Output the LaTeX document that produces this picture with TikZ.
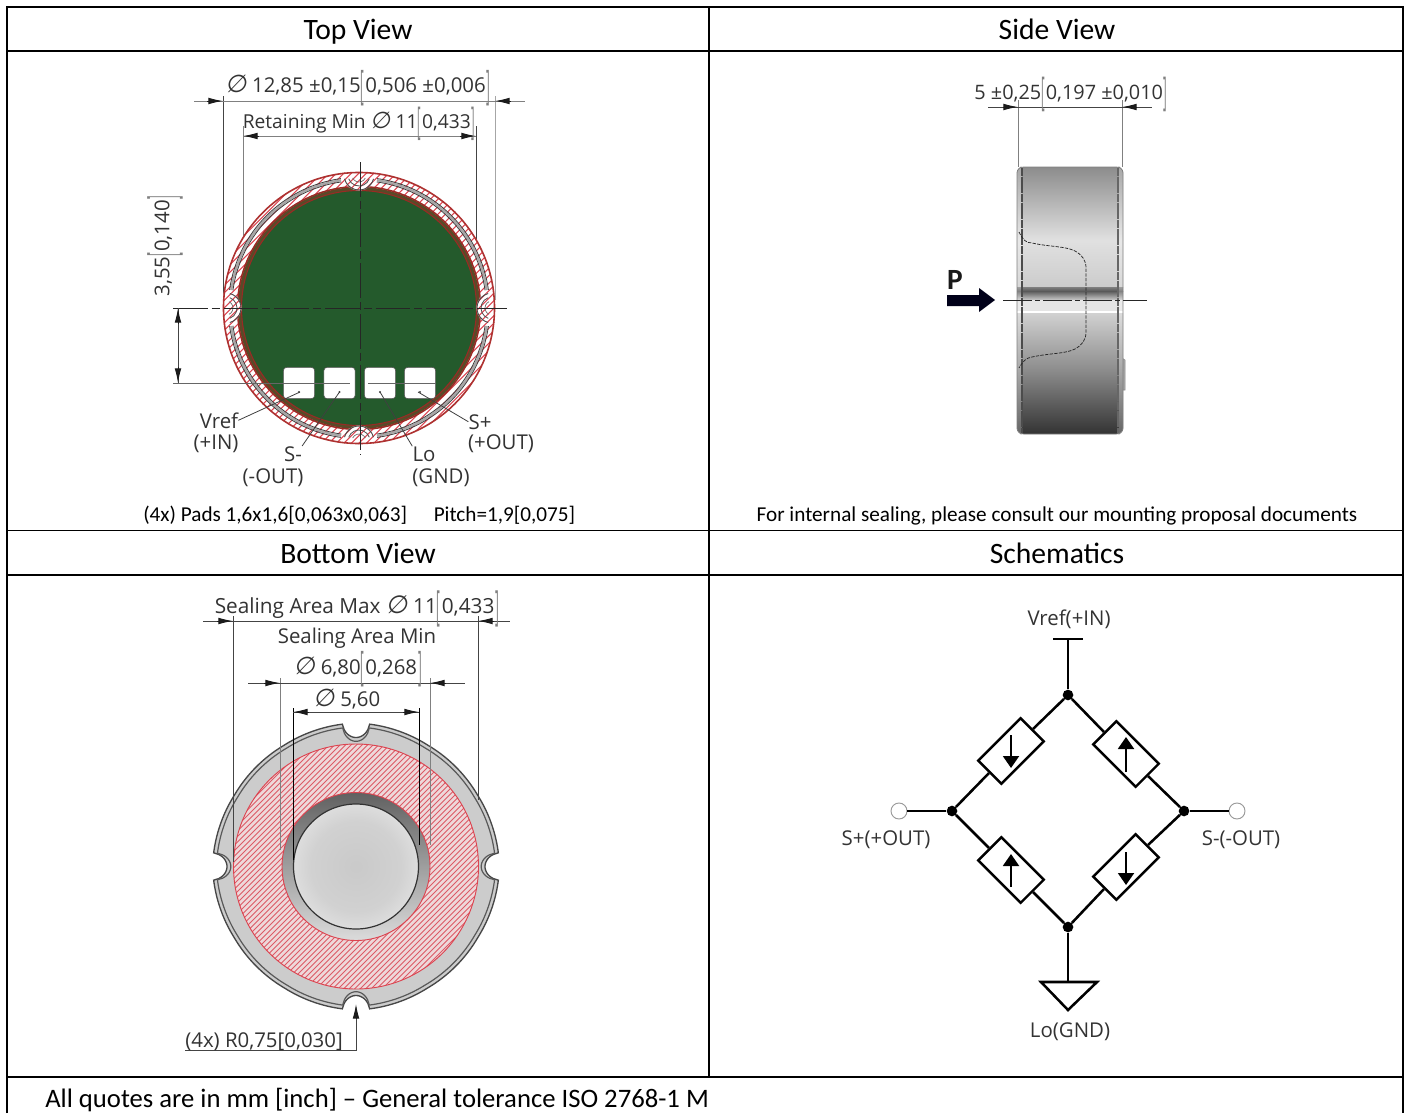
\documentclass[tikz,border=0pt]{standalone}
\usepackage{fontspec}
\usepackage{graphicx}
\setmainfont{Carlito}
\newfontfamily\dimf{Open Sans}
\newfontfamily\djf[FakeSlant=0.15]{DejaVu Sans}
\usetikzlibrary{arrows.meta,calc,shapes.geometric}
\definecolor{txt}{HTML}{333333}
\definecolor{dimc}{HTML}{444444}
\definecolor{pcb}{HTML}{245A2C}
\definecolor{pcbr}{HTML}{9A2A24}
\definecolor{pcbo}{HTML}{5A4A28}
\definecolor{hatchr}{HTML}{DC4450}
\definecolor{hatchb}{HTML}{DC5A66}
\definecolor{body}{HTML}{CCCCCC}
\definecolor{pinkbg}{HTML}{EED8DA}
\newcommand\lbk{\raisebox{-0.34em}{\scalebox{0.55}[2.0]{\textcolor{gray}{[}}}\hspace{0.05em}}
\newcommand\rbk{\hspace{0.05em}\raisebox{-0.34em}{\scalebox{0.55}[2.0]{\textcolor{gray}{]}}}}
\newcommand\dia{\scalebox{1.2}{\djf\char"2205}}
\newcommand\tophatch{\foreach \k in {-32,...,32} \draw[hatchr,line width=0.8pt] ({\k*7.5-160},160) -- ({\k*7.5+160},-160);}
\pgfmathdeclarefunction{bR}{1}{\begingroup\pgfmathparse{abs(mod(#1+45,90)-45)}\let\dd\pgfmathresult\pgfmathparse{(\dd<5.4)?(143-14*sqrt(abs(1-(\dd/5.4)^2))):(141+2*max(0,1-(\dd-5.4)/25))}\pgfmathsmuggle\pgfmathresult\endgroup}
\pgfdeclareradialshading{bowl}{\pgfpoint{0bp}{0bp}}{rgb(0bp)=(0.79,0.79,0.79);rgb(18bp)=(0.82,0.82,0.82);rgb(30bp)=(0.90,0.90,0.90);rgb(38bp)=(0.84,0.84,0.84);rgb(50bp)=(0.50,0.50,0.50)}
\tikzset{
  gridline/.style={black,line width=1.1pt},
  title/.style={font=\fontsize{22.2}{24}\selectfont,text=black,inner sep=0pt,anchor=base},
  caption/.style={font=\fontsize{15.9}{18}\selectfont,text=black,inner sep=0pt,anchor=base},
  dimtext/.style={font=\dimf\fontsize{15.3}{17}\selectfont,text=txt,inner sep=0pt,anchor=base},
  dimline/.style={dimc,line width=0.7pt},
  extline/.style={dimc,line width=0.55pt},
  dimtip/.style={-{Latex[length=11pt,width=5pt]},dimc!40!black,line width=0.7pt},
  centerline/.style={black!85,line width=0.6pt,dash pattern=on 26pt off 3pt on 6pt off 3pt},
  wire/.style={black,line width=1.9pt},
  resistor/.style={draw=black,fill=white,line width=1.8pt,rectangle,minimum width=45pt,minimum height=24.5pt,rotate=#1,inner sep=0pt},
  junction/.style={circle,fill=black,inner sep=0pt,minimum size=8pt},
  terminal/.style={circle,draw=gray!80,fill=white,line width=0.7pt,inner sep=0pt,minimum size=12pt},
  gauge/.style={-{Triangle[length=9pt,width=12pt]},black,line width=1.5pt},
  pad/.style={rectangle,rounded corners=2.5pt,fill=white,draw=black!70,line width=0.4pt,minimum size=23.5pt,inner sep=0pt},
  leader/.style={black!75,line width=0.6pt},
  sch/.style={font=\dimf\fontsize{15.3}{17}\selectfont,text=txt,inner sep=0pt,anchor=base}
}
\begin{document}
\begin{tikzpicture}[x=0.75pt,y=-0.75pt]
\useasboundingbox (0,0) rectangle (1408,1113);
\fill[white] (0,0) rectangle (1408,1113);
% ---------- table
\draw[gridline] (7,1113) -- (7,7) -- (1403,7) -- (1403,1113);
\draw[gridline] (7,51) -- (1403,51);
\draw[gridline] (7,530.5) -- (1403,530.5);
\draw[gridline] (7,575) -- (1403,575);
\draw[gridline] (7,1077) -- (1403,1077);
\draw[gridline] (709,7) -- (709,1077);
\node[title] (ttop) at (358,40) {Top View};
\node[title] (tside) at (1057,40) {Side View};
\node[title] (tbot) at (358,563.5) {Bottom View};
\node[title] (tsch) at (1057,563.5) {Schematics};
\node[caption,anchor=base west] (ctop) at (143,521) {(4x) Pads 1,6x1,6[0,063x0,063]\hspace{1.25em}Pitch=1,9[0,075]};
\node[caption] (cside) at (1057,521) {For internal sealing, please consult our mounting proposal documents};
\node[title,anchor=base west,font=\fontsize{20}{22}\selectfont] (cfoot) at (45,1107) {All quotes are in mm [inch] – General tolerance ISO 2768-1 M};
% ---------- top view: dimensions behind the disc
\draw[extline] (223,96) -- (223,300);
\draw[extline,gray!70] (495,96) -- (495,300);
\draw[extline,gray] (243,126) -- (243,300);
\draw[extline] (476,126) -- (476,300);
% ---------- top view disc
\begin{scope}[shift={(359,308)}]
  \fill[white] (0,0) circle[radius=136];
  \begin{scope}
    \clip (0,0) circle[radius=136];
    \tophatch
  \end{scope}
  \foreach \a in {0,90,180,270} {
    \draw[gray!70,line width=1.6pt] ({\a+8}:129) arc[start angle={\a+8},delta angle=74,radius=129];
    \draw[black!75,line width=0.6pt] ({\a+8}:130.7) arc[start angle={\a+8},delta angle=74,radius=130.7];
    \draw[black!75,line width=0.6pt] ({\a+8}:127.3) arc[start angle={\a+8},delta angle=74,radius=127.3];
  }
  \fill[pcbo] (0,0) circle[radius=121];
  \draw[pcbr,line width=1.1pt] (0,0) circle[radius=121.5];
  \fill[pcb] (0,0) circle[radius=117.5];
  \draw[pcbr,line width=0.8pt] (0,0) circle[radius=117.5];
  \foreach \a in {0,90,180,270} {
    \begin{scope}
      \clip (0,0) circle[radius=136];
      \begin{scope}
        \clip ({133*cos(\a)},{133*sin(\a)}) circle[radius=15.5];
        \fill[white] ({133*cos(\a)},{133*sin(\a)}) circle[radius=15.5];
        \tophatch
      \end{scope}
      \begin{scope}[shift={({133*cos(\a)},{133*sin(\a)})}]
        \draw[black!70,line width=0.7pt] ({\a+105}:15) arc[start angle={\a+105},delta angle=150,radius=15];
        \draw[black!70,line width=0.6pt] ({\a+110}:11) arc[start angle={\a+110},delta angle=140,radius=11];
        \draw[black!60,line width=0.5pt] ({\a+115}:7) arc[start angle={\a+115},delta angle=130,radius=7];
      \end{scope}
    \end{scope}
  }
  \draw[pcbr!70!hatchr,line width=1.2pt] (0,0) circle[radius=135.5];
\end{scope}
% pads
\node[pad] (p1) at (299,383) {};
\node[pad] (p2) at (339.5,383) {};
\node[pad] (p3) at (380,383) {};
\node[pad] (p4) at (420,383) {};
% center lines and dims
\draw[centerline] (360,162) -- (360,455);
\draw[centerline] (173,308) -- (507,308);
\draw[dimline,gray!80!black] (173,383) -- (350,383);
\draw[dimline,gray!80!black] (368,383) -- (436,383);
\draw[dimline,gray] (194,101) -- (525,101);
\draw[dimtip] (207,101) -- (223,101);
\draw[dimtip] (511,101) -- (495,101);
\draw[dimline,gray] (243,136) -- (476,136);
\draw[dimtip] (259,136) -- (243,136);
\draw[dimtip] (460,136) -- (476,136);
\draw[dimline] (178,308) -- (178,383);
\draw[dimtip] (178,324) -- (178,308);
\draw[dimtip] (178,367) -- (178,383);
\node[dimtext] (d1) at (358,93) {\dia\ 12,85 ±0,15\lbk 0,506 ±0,006\rbk};
\node[dimtext,font=\dimf\fontsize{14.4}{16}\selectfont] (d2) at (359,128) {Retaining Min \dia\ 11\lbk 0,433\rbk};
\node[dimtext,rotate=90,anchor=center] (d3) at (165,246) {3,55\lbk 0,140\rbk};
% pad labels
\node[dimtext] (lv1) at (219,428) {Vref};
\node[dimtext] (lv2) at (216,449) {(+IN)};
\node[dimtext] (ls1) at (293,461) {S-};
\node[dimtext] (ls2) at (273,483) {(-OUT)};
\node[dimtext] (ll1) at (424,461) {Lo};
\node[dimtext] (ll2) at (441,483) {(GND)};
\node[dimtext] (lp1) at (480,429) {S+};
\node[dimtext] (lp2) at (501,449) {(+OUT)};
\draw[leader] (lv1.east) -- ($(p1.center)+(1,9)$);
\draw[leader] (ls1.north east) -- ($(p2.center)+(0,9)$);
\draw[leader] (ll1.north west) -- ($(p3.center)+(0,9)$);
\draw[leader] (lp1.west) -- ($(p4.center)+(-2,9)$);
\foreach \p in {p1,p2,p3,p4} \fill[black!75] ($(\p.center)+(0,9)$) circle[radius=1.2];
% ---------- side view
\draw[extline,gray] (1018,100) -- (1018,167);
\draw[extline,gray] (1122,100) -- (1122,167);
\draw[dimline] (988,107) -- (1152,107);
\draw[dimtip] (1003,107) -- (1018,107);
\draw[dimtip] (1137,107) -- (1122,107);
\node[dimtext,font=\dimf\fontsize{14.9}{16}\selectfont] (d4) at (1071,99) {5 ±0,25\lbk 0,197 ±0,010\rbk};
\fill[gray!70] (1122,358) -- (1125,360) -- (1125,390) -- (1122,390) -- cycle;
\draw[black!45,line width=0.4pt] (1122,358) -- (1125,360) -- (1125,390) -- (1122,390);
\begin{scope}
  \clip[rounded corners=2pt] (1017,170) -- (1021,167) -- (1119,167) -- (1123,170) -- (1123,431) -- (1119,434) -- (1021,434) -- (1017,431) -- cycle;
  \shade[top color=black!45,bottom color=black!12] (1017,167) rectangle (1123,240);
  \shade[top color=black!12,bottom color=black!20] (1017,240) rectangle (1123,287);
  \shade[top color=black!50,bottom color=black!65] (1017,287) rectangle (1123,291);
  \shade[top color=black!65,bottom color=black!20] (1017,291) rectangle (1123,300);
  \fill[black!10] (1017,300) rectangle (1123,311);
  \fill[white] (1017,311) rectangle (1123,313);
  \shade[top color=black!18,bottom color=black!45] (1017,313) rectangle (1123,370);
  \shade[top color=black!45,bottom color=black!80] (1017,370) rectangle (1123,434);
  \fill[white,opacity=0.25] (1017,167) rectangle (1021.5,434);
  \fill[white,opacity=0.25] (1118.5,167) rectangle (1123,434);
\end{scope}
\draw[black!50,line width=0.6pt,rounded corners=2pt] (1017,170) -- (1021,167) -- (1119,167) -- (1123,170) -- (1123,431) -- (1119,434) -- (1021,434) -- (1017,431) -- cycle;
\draw[black!70,line width=0.8pt,dash pattern=on 6pt off 0.5pt] (1022,168) -- (1022,433);
\draw[black!60,line width=0.8pt,dash pattern=on 6pt off 0.5pt] (1118,168) -- (1118,433);
\draw[black!85,line width=0.55pt,dash pattern=on 2.5pt off 1pt] (1019,232) .. controls (1023,240) and (1026,243) .. (1032,243) .. controls (1050,247) and (1065,246) .. (1075,251) .. controls (1082,255) and (1086,260) .. (1086,268) -- (1086,332) .. controls (1086,340) and (1082,345) .. (1075,349) .. controls (1065,354) and (1050,353) .. (1032,357) .. controls (1026,358) and (1023,361) .. (1019,368);
\draw[centerline,dash pattern=on 22pt off 2pt on 4pt off 2pt] (1003,300) -- (1147,300);
\node[font=\bfseries\fontsize{22}{23}\selectfont,text=black!90,inner sep=0pt] (plab) at (955,280) {P};
\fill[black!90!blue] (947,295) -- (979,295) -- (979,288) -- (995,300) -- (979,312) -- (979,306) -- (947,306) -- cycle;
% ---------- bottom view
\begin{scope}[shift={(356,866.5)}]
  \fill[body] plot[domain=0:359.5,samples=720] ({bR(\x)*cos(\x)},{bR(\x)*sin(\x)}) -- cycle;
  \draw[black!72,line width=1pt] plot[domain=0:359.5,samples=720] ({bR(\x)*cos(\x)},{bR(\x)*sin(\x)}) -- cycle;
  \draw[black!65,line width=0.9pt] plot[domain=0:359.5,samples=720] ({(bR(\x)-3.8)*cos(\x)},{(bR(\x)-3.8)*sin(\x)}) -- cycle;
  \fill[pinkbg] (0,0) circle[radius=122.5];
  \begin{scope}
    \clip (0,0) circle[radius=122.5];
    \foreach \k in {-40,...,40}
      \draw[hatchb,line width=0.6pt] ({\k*5.5-140},140) -- ({\k*5.5+140},-140);
  \end{scope}
  \draw[hatchr,line width=0.7pt] (0,0) circle[radius=122.5];
  \shade[top color=black!62,bottom color=black!14] (0,0) circle[radius=74];
  \draw[hatchr,line width=0.7pt] (0,0) circle[radius=74];
  \shade[shading=bowl] (0,0) circle[radius=62.5];
  \draw[black!80,line width=0.9pt] (0,0) circle[radius=62.5];
\end{scope}
\draw[extline] (233,616) -- (233,862);
\draw[extline] (478,616) -- (478,800);
\draw[extline,gray] (280,678) -- (280,850);
\draw[extline,gray] (430,678) -- (430,845);
\draw[extline,black] (293,708) -- (293,860);
\draw[extline,black] (419,708) -- (419,845);
\draw[dimline] (203,621) -- (510,621);
\draw[dimtip] (217,621) -- (233,621);
\draw[dimtip] (494,621) -- (478,621);
\draw[dimline] (248,683) -- (465,683);
\draw[dimtip] (264,683) -- (280,683);
\draw[dimtip] (446,683) -- (430,683);
\draw[dimline] (293,712) -- (419,712);
\draw[dimtip] (309,712) -- (293,712);
\draw[dimtip] (403,712) -- (419,712);
\draw[dimline] (185,1050.5) -- (356,1050.5) -- (356,1018);
\draw[dimtip] (356,1018) -- (356,1004);
\node[dimtext,font=\dimf\fontsize{15.6}{17}\selectfont] (d5) at (357,613) {Sealing Area Max \dia\ 11\lbk 0,433\rbk};
\node[dimtext] (d6) at (357,643) {Sealing Area Min};
\node[dimtext] (d7) at (358,674) {\dia\ 6,80\lbk 0,268\rbk};
\node[dimtext] (d8) at (347,706) {\dia\ 5,60};
\node[dimtext] (d9) at (264,1047) {(4x) R0,75[0,030]};
% ---------- schematics
\node[junction] (jt) at (1068,695) {};
\node[junction] (jb) at (1068,927) {};
\node[junction] (jl) at (952,811) {};
\node[junction] (jr) at (1184,811) {};
\node[resistor=45] (r1) at (1011,751) {};
\node[resistor=-45] (r2) at (1126,754) {};
\node[resistor=-45] (r3) at (1011,870) {};
\node[resistor=45] (r4) at (1126,867) {};
\node[terminal] (tl) at (899,811) {};
\node[terminal] (tr) at (1237,811) {};
\coordinate (vcc) at (1068,639);
\coordinate (gnd) at (1068,982);
\draw[wire] (jt) -- (r1.east);
\draw[wire] (r1.west) -- (jl);
\draw[wire] (jt) -- (r2.west);
\draw[wire] (r2.east) -- (jr);
\draw[wire] (jl) -- (r3.west);
\draw[wire] (r3.east) -- (jb);
\draw[wire] (jr) -- (r4.east);
\draw[wire] (r4.west) -- (jb);
\draw[wire] (tl) -- (jl);
\draw[wire] (jr) -- (tr);
\draw[wire] (jt) -- (vcc);
\draw[wire] (jb) -- (gnd);
\draw[wire] (1053,639) -- (1083,639);
\draw[wire,line join=miter] (1041,982) -- (1097,982) -- (1068,1010) -- cycle;
\draw[gauge] ($(r1)+(0,-16)$) -- ($(r1)+(0,17)$);
\draw[gauge] ($(r2)+(0,18)$) -- ($(r2)+(0,-17)$);
\draw[gauge] ($(r3)+(0,17)$) -- ($(r3)+(0,-16)$);
\draw[gauge] ($(r4)+(0,-15)$) -- ($(r4)+(0,18)$);
\node[sch] (svcc) at (1069,625) {Vref(+IN)};
\node[sch] (ssp) at (886,845) {S+(+OUT)};
\node[sch] (ssm) at (1241,845) {S-(-OUT)};
\node[sch] (sgnd) at (1070,1037) {Lo(GND)};
\end{tikzpicture}
\end{document}
